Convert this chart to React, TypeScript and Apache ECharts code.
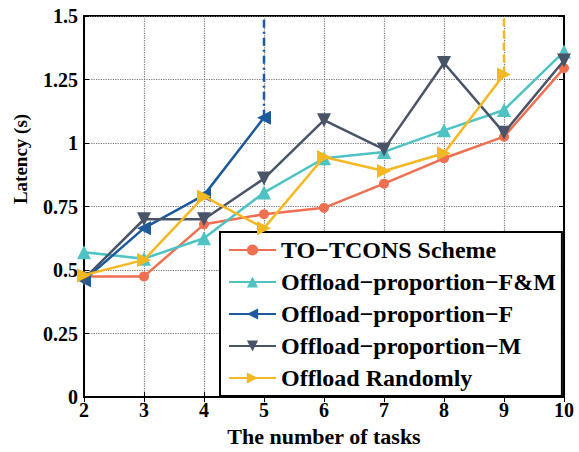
import React, { useEffect, useRef } from "react";
import * as echarts from "echarts";

const tasks = [2, 3, 4, 5, 6, 7, 8, 9, 10];
const toTcons = [0.475, 0.475, 0.68, 0.72, 0.745, 0.84, 0.94, 1.025, 1.295];
const propFM = [0.57, 0.545, 0.625, 0.805, 0.94, 0.965, 1.05, 1.13, 1.36];
const propF = [0.46, 0.665, 0.795, 1.1];
const propM = [0.465, 0.7, 0.7, 0.86, 1.09, 0.975, 1.315, 1.04, 1.325];
const randomly = [0.48, 0.54, 0.79, 0.665, 0.945, 0.89, 0.96, 1.27];
const fExtension = [[5, 1.1], [5, 1.5]];
const randExtension = [[9, 1.27], [9, 1.5]];
const names = [
  "TO\u2212TCONS Scheme",
  "Offload\u2212proportion\u2212F&M",
  "Offload\u2212proportion\u2212F",
  "Offload\u2212proportion\u2212M",
  "Offload Randomly",
];
const colors = ["#EF6F50", "#4FC3C4", "#1D5A9C", "#4A5468", "#F4B922"];

const FONT = "'Liberation Serif', 'Times New Roman', serif";
const triUp = "path://M5,0 L10,9 L0,9 Z";
const triDown = "path://M0,0 L10,0 L5,9 Z";
const triLeft = "path://M0,5 L9,0 L9,10 Z";
const triRight = "path://M0,0 L9,5 L0,10 Z";

const pairs = (vals: number[]) => vals.map((v, i) => [tasks[i], v]);

export default function App() {
  const ref = useRef<HTMLDivElement>(null);
  useEffect(() => {
    if (!ref.current) return;
    const chart = echarts.init(ref.current, undefined, { renderer: "svg" });
    const mk = (i: number, data: number[], symbol: string, size: number) => ({
      name: names[i],
      type: "line",
      data: pairs(data),
      symbol,
      symbolSize: size,
      lineStyle: { color: colors[i], width: 2.5 },
      itemStyle: { color: colors[i] },
      z: 3 + i,
    });
    chart.setOption({
      animation: false,
      backgroundColor: "#fff",
      grid: {
        left: 84,
        right: 15,
        top: 16,
        bottom: 54,
        show: true,
        borderColor: "#000",
        borderWidth: 2,
      },
      xAxis: [
        {
          type: "value",
          min: 2,
          max: 10,
          interval: 1,
          axisLine: { show: true, lineStyle: { color: "#000", width: 2 } },
          axisTick: { inside: true, length: 5, lineStyle: { color: "#000" } },
          axisLabel: {
            color: "#000",
            fontFamily: FONT,
            fontWeight: "bold",
            fontSize: 20,
            margin: 3,
          },
          splitLine: { show: true, lineStyle: { type: "dotted", color: "#777", width: 1.2 } },
          name: "The number of tasks",
          nameLocation: "middle",
          nameGap: 24,
          nameTextStyle: { color: "#000", fontFamily: FONT, fontWeight: "bold", fontSize: 22 },
        },
        {
          type: "value",
          position: "top",
          min: 2,
          max: 10,
          interval: 1,
          axisLine: { show: true, lineStyle: { color: "#000", width: 2 } },
          axisTick: { inside: true, length: 5, lineStyle: { color: "#000" } },
          axisLabel: { show: false },
          splitLine: { show: false },
        },
      ],
      yAxis: [
        {
          type: "value",
          min: 0,
          max: 1.5,
          interval: 0.25,
          axisLine: { show: true, lineStyle: { color: "#000", width: 2 } },
          axisTick: { inside: true, length: 5, lineStyle: { color: "#000" } },
          axisLabel: {
            color: "#000",
            fontFamily: FONT,
            fontWeight: "bold",
            fontSize: 20,
            margin: 6,
          },
          splitLine: { show: true, lineStyle: { type: "dotted", color: "#777", width: 1.2 } },
        },
        {
          type: "value",
          position: "right",
          min: 0,
          max: 1.5,
          interval: 0.25,
          axisLine: { show: true, lineStyle: { color: "#000", width: 2 } },
          axisTick: { inside: true, length: 5, lineStyle: { color: "#000" } },
          axisLabel: { show: false },
          splitLine: { show: false },
        },
      ],
      legend: {
        data: names,
        orient: "vertical",
        left: 220,
        top: 232,
        padding: [6, 6, 6, 8],
        itemGap: 8,
        itemWidth: 47,
        itemHeight: 14,
        backgroundColor: "#fff",
        borderColor: "#000",
        borderWidth: 2,
        textStyle: {
          color: "#000",
          fontFamily: FONT,
          fontWeight: "bold",
          fontSize: 24,
          lineHeight: 24,
        },
      },
      graphic: [
        {
          type: "text",
          x: 20,
          y: 159,
          rotation: Math.PI / 2,
          style: {
            text: "Latency (s)",
            fill: "#000",
            font: `bold 19px ${FONT}`,
            textAlign: "center",
            textVerticalAlign: "middle",
          },
        },
      ],
      series: [
        {
          name: "fExt",
          type: "line",
          data: fExtension,
          symbol: "none",
          lineStyle: { color: colors[2], width: 2.5, type: [8, 4, 2, 4] },
          z: 2,
        },
        {
          name: "rExt",
          type: "line",
          data: randExtension,
          symbol: "none",
          lineStyle: { color: colors[4], width: 2.5, type: [8, 4] },
          z: 2,
        },
        mk(0, toTcons, "circle", 10),
        mk(1, propFM, triUp, 14),
        mk(2, propF, triLeft, 14),
        mk(3, propM, triDown, 14),
        mk(4, randomly, triRight, 14),
      ],
    });
    return () => chart.dispose();
  }, []);
  return <div ref={ref} style={{ width: 579, height: 452, position: "absolute", left: 0, top: 0 }} />;
}
